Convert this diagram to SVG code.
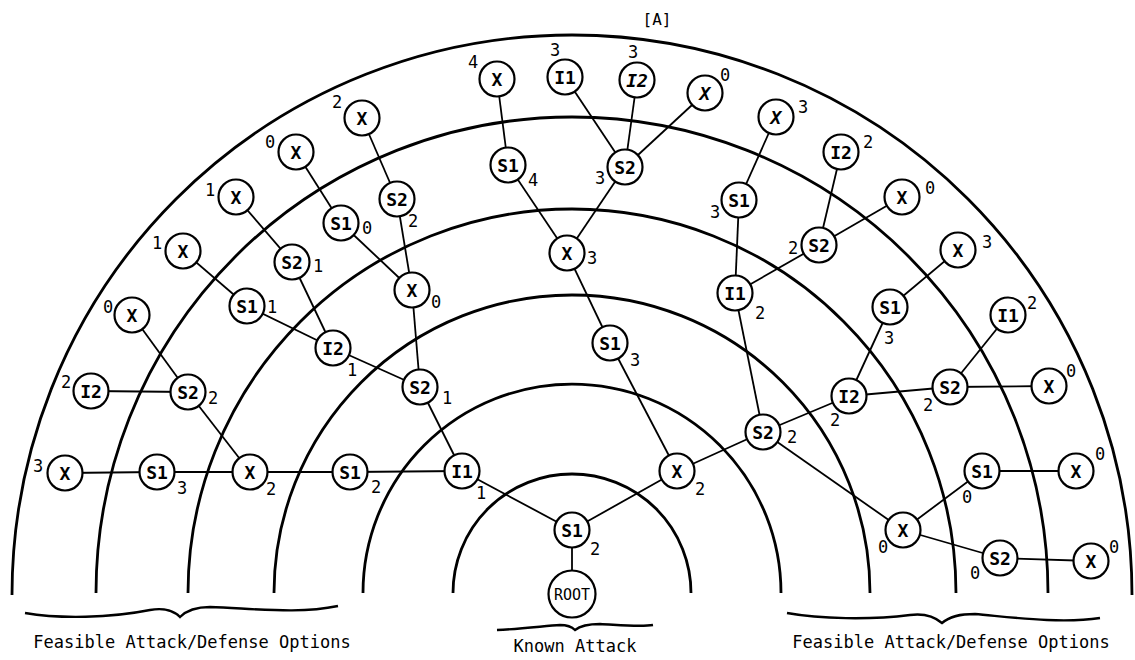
<svg xmlns="http://www.w3.org/2000/svg" width="1135" height="660" viewBox="0 0 1135 660">
<style>
.arc{fill:none;stroke:#000;stroke-width:2.8}
.br{fill:none;stroke:#000;stroke-width:2.4}
#connectors line{stroke:#000;stroke-width:1.8}
circle{fill:#fff;stroke:#000;stroke-width:2.2}
.t{font-family:"DejaVu Sans Mono","Liberation Mono",monospace;font-size:18px;font-weight:bold;text-anchor:middle;fill:#000}
.i{font-style:italic}
.w{font-family:"DejaVu Sans Mono","Liberation Mono",monospace;font-size:17px;text-anchor:middle;fill:#000}
.cap{font-family:"DejaVu Sans Mono","Liberation Mono",monospace;font-size:17px;text-anchor:middle;fill:#000}
</style>
<rect width="1135" height="660" fill="#fff"/>
<g id="arcs">
<path class="arc" d="M453,593 A119,119 0 0 1 691,593"/>
<path class="arc" d="M363,593 A209,209 0 0 1 781,593"/>
<path class="arc" d="M274,593 A298,298 0 0 1 870,593"/>
<path class="arc" d="M188,593 A384,384 0 0 1 956,593"/>
<path class="arc" d="M96,593 A476,476 0 0 1 1048,593"/>
<path class="arc" d="M12,595 A560,560 0 0 1 1132,595"/>
</g>
<g id="braces">
<path class="br" d="M25,613 C60,619 110,618 150,610 C165,607 175,612 180,617 C186,611 195,607 210,607 C260,609 300,614 338,606"/>
<path class="br" d="M497,630 C520,629 545,626 560,625 C568,625 572,627 575,630 C580,626 588,624 600,624 C620,625 640,627 653,625"/>
<path class="br" d="M787,613 C820,619 870,620 910,615 C925,613 935,617 942,623 C950,616 960,614 975,614 C1010,617 1060,624 1100,618"/>
</g>
<g id="connectors">
<line x1="572" y1="530" x2="572" y2="594"/>
<line x1="572" y1="530" x2="462" y2="471"/>
<line x1="572" y1="530" x2="677" y2="471"/>
<line x1="462" y1="471" x2="350" y2="472"/>
<line x1="462" y1="471" x2="420" y2="387"/>
<line x1="350" y1="472" x2="250" y2="472"/>
<line x1="250" y1="472" x2="157" y2="472"/>
<line x1="157" y1="472" x2="65" y2="473"/>
<line x1="250" y1="472" x2="188" y2="392"/>
<line x1="188" y1="392" x2="91" y2="391"/>
<line x1="188" y1="392" x2="132" y2="315"/>
<line x1="420" y1="387" x2="333" y2="348"/>
<line x1="420" y1="387" x2="412" y2="290"/>
<line x1="333" y1="348" x2="247" y2="306"/>
<line x1="333" y1="348" x2="292" y2="262"/>
<line x1="247" y1="306" x2="183" y2="251"/>
<line x1="292" y1="262" x2="236" y2="197"/>
<line x1="412" y1="290" x2="341" y2="223"/>
<line x1="412" y1="290" x2="397" y2="199"/>
<line x1="341" y1="223" x2="296" y2="152"/>
<line x1="397" y1="199" x2="362" y2="118"/>
<line x1="677" y1="471" x2="610" y2="343"/>
<line x1="610" y1="343" x2="567" y2="253"/>
<line x1="567" y1="253" x2="508" y2="165"/>
<line x1="567" y1="253" x2="625" y2="167"/>
<line x1="508" y1="165" x2="497" y2="79"/>
<line x1="625" y1="167" x2="565" y2="77"/>
<line x1="625" y1="167" x2="637" y2="80"/>
<line x1="625" y1="167" x2="705" y2="93"/>
<line x1="677" y1="471" x2="763" y2="432"/>
<line x1="763" y1="432" x2="735" y2="293"/>
<line x1="735" y1="293" x2="739" y2="200"/>
<line x1="739" y1="200" x2="776" y2="117"/>
<line x1="735" y1="293" x2="819" y2="245"/>
<line x1="819" y1="245" x2="841" y2="152"/>
<line x1="819" y1="245" x2="902" y2="197"/>
<line x1="763" y1="432" x2="849" y2="396"/>
<line x1="849" y1="396" x2="890" y2="307"/>
<line x1="890" y1="307" x2="958" y2="250"/>
<line x1="849" y1="396" x2="950" y2="387"/>
<line x1="950" y1="387" x2="1008" y2="315"/>
<line x1="950" y1="387" x2="1049" y2="386"/>
<line x1="763" y1="432" x2="903" y2="530"/>
<line x1="903" y1="530" x2="982" y2="471"/>
<line x1="982" y1="471" x2="1076" y2="471"/>
<line x1="903" y1="530" x2="1000" y2="558"/>
<line x1="1000" y1="558" x2="1091" y2="561"/>
</g>
<g id="n-root"><circle cx="572" cy="594" r="23.5"/><text class="t" x="572" y="600" style="font-size:15px;font-weight:normal">ROOT</text></g>
<g id="n-s1r"><circle cx="572" cy="530" r="17.5"/><text class="t" x="572" y="536.5">S1</text><text class="w" x="595" y="555">2</text></g>
<g id="n-i1"><circle cx="462" cy="471" r="17.5"/><text class="t" x="462" y="477.5">I1</text><text class="w" x="481" y="499">1</text></g>
<g id="n-xc"><circle cx="677" cy="471" r="17.5"/><text class="t" x="677" y="477.5">X</text><text class="w" x="700" y="495">2</text></g>
<g id="n-s1a"><circle cx="350" cy="472" r="17.5"/><text class="t" x="350" y="478.5">S1</text><text class="w" x="376" y="493">2</text></g>
<g id="n-xb"><circle cx="250" cy="472" r="17.5"/><text class="t" x="250" y="478.5">X</text><text class="w" x="271" y="495">2</text></g>
<g id="n-s1b"><circle cx="157" cy="472" r="17.5"/><text class="t" x="157" y="478.5">S1</text><text class="w" x="182" y="494">3</text></g>
<g id="n-xl"><circle cx="65" cy="473" r="17.5"/><text class="t" x="65" y="479.5">X</text><text class="w" x="38" y="472">3</text></g>
<g id="n-s2b"><circle cx="188" cy="392" r="17.5"/><text class="t" x="188" y="398.5">S2</text><text class="w" x="213" y="404">2</text></g>
<g id="n-i2b"><circle cx="91" cy="391" r="17.5"/><text class="t" x="91" y="397.5">I2</text><text class="w" x="66" y="388">2</text></g>
<g id="n-xd"><circle cx="132" cy="315" r="17.5"/><text class="t" x="132" y="321.5">X</text><text class="w" x="108" y="313">0</text></g>
<g id="n-s2a"><circle cx="420" cy="387" r="17.5"/><text class="t" x="420" y="393.5">S2</text><text class="w" x="447" y="404">1</text></g>
<g id="n-i2a"><circle cx="333" cy="348" r="17.5"/><text class="t" x="333" y="354.5">I2</text><text class="w" x="352" y="376">1</text></g>
<g id="n-xe"><circle cx="412" cy="290" r="17.5"/><text class="t" x="412" y="296.5">X</text><text class="w" x="436" y="308">0</text></g>
<g id="n-s1c"><circle cx="247" cy="306" r="17.5"/><text class="t" x="247" y="312.5">S1</text><text class="w" x="272" y="313">1</text></g>
<g id="n-s2c"><circle cx="292" cy="262" r="17.5"/><text class="t" x="292" y="268.5">S2</text><text class="w" x="318" y="272">1</text></g>
<g id="n-xf"><circle cx="183" cy="251" r="17.5"/><text class="t" x="183" y="257.5">X</text><text class="w" x="157" y="249">1</text></g>
<g id="n-xg"><circle cx="236" cy="197" r="17.5"/><text class="t" x="236" y="203.5">X</text><text class="w" x="210" y="196">1</text></g>
<g id="n-s1d"><circle cx="341" cy="223" r="17.5"/><text class="t" x="341" y="229.5">S1</text><text class="w" x="367" y="234">0</text></g>
<g id="n-s2d"><circle cx="397" cy="199" r="17.5"/><text class="t" x="397" y="205.5">S2</text><text class="w" x="413" y="227">2</text></g>
<g id="n-xh"><circle cx="296" cy="152" r="17.5"/><text class="t" x="296" y="158.5">X</text><text class="w" x="270" y="148">0</text></g>
<g id="n-xi"><circle cx="362" cy="118" r="17.5"/><text class="t" x="362" y="124.5">X</text><text class="w" x="337" y="108">2</text></g>
<g id="n-s1e"><circle cx="610" cy="343" r="17.5"/><text class="t" x="610" y="349.5">S1</text><text class="w" x="635" y="366">3</text></g>
<g id="n-xj"><circle cx="567" cy="253" r="17.5"/><text class="t" x="567" y="259.5">X</text><text class="w" x="592" y="264">3</text></g>
<g id="n-s1f"><circle cx="508" cy="165" r="17.5"/><text class="t" x="508" y="171.5">S1</text><text class="w" x="533" y="186">4</text></g>
<g id="n-s2f"><circle cx="625" cy="167" r="17.5"/><text class="t" x="625" y="173.5">S2</text><text class="w" x="600" y="184">3</text></g>
<g id="n-xk"><circle cx="497" cy="79" r="17.5"/><text class="t" x="497" y="85.5">X</text><text class="w" x="473" y="68">4</text></g>
<g id="n-i1t"><circle cx="565" cy="77" r="17.5"/><text class="t" x="565" y="83.5">I1</text><text class="w" x="555" y="56">3</text></g>
<g id="n-i2t"><circle cx="637" cy="80" r="17.5"/><text class="t i" x="637" y="86.5">I2</text><text class="w" x="633" y="58">3</text></g>
<g id="n-xm"><circle cx="705" cy="93" r="17.5"/><text class="t i" x="705" y="99.5">X</text><text class="w" x="725" y="81">0</text></g>
<g id="n-s2g"><circle cx="763" cy="432" r="17.5"/><text class="t" x="763" y="438.5">S2</text><text class="w" x="792" y="443">2</text></g>
<g id="n-i1g"><circle cx="735" cy="293" r="17.5"/><text class="t" x="735" y="299.5">I1</text><text class="w" x="760" y="319">2</text></g>
<g id="n-s1g"><circle cx="739" cy="200" r="17.5"/><text class="t" x="739" y="206.5">S1</text><text class="w" x="715" y="218">3</text></g>
<g id="n-xn"><circle cx="776" cy="117" r="17.5"/><text class="t i" x="776" y="123.5">X</text><text class="w" x="803" y="113">3</text></g>
<g id="n-s2h"><circle cx="819" cy="245" r="17.5"/><text class="t" x="819" y="251.5">S2</text><text class="w" x="793" y="254">2</text></g>
<g id="n-i2h"><circle cx="841" cy="152" r="17.5"/><text class="t" x="841" y="158.5">I2</text><text class="w" x="868" y="148">2</text></g>
<g id="n-xo"><circle cx="902" cy="197" r="17.5"/><text class="t" x="902" y="203.5">X</text><text class="w" x="930" y="194">0</text></g>
<g id="n-i2i"><circle cx="849" cy="396" r="17.5"/><text class="t" x="849" y="402.5">I2</text><text class="w" x="835" y="426">2</text></g>
<g id="n-s1i"><circle cx="890" cy="307" r="17.5"/><text class="t" x="890" y="313.5">S1</text><text class="w" x="889" y="344">3</text></g>
<g id="n-xp"><circle cx="958" cy="250" r="17.5"/><text class="t" x="958" y="256.5">X</text><text class="w" x="987" y="248">3</text></g>
<g id="n-s2i"><circle cx="950" cy="387" r="17.5"/><text class="t" x="950" y="393.5">S2</text><text class="w" x="928" y="411">2</text></g>
<g id="n-i1i"><circle cx="1008" cy="315" r="17.5"/><text class="t" x="1008" y="321.5">I1</text><text class="w" x="1032" y="309">2</text></g>
<g id="n-xq"><circle cx="1049" cy="386" r="17.5"/><text class="t" x="1049" y="392.5">X</text><text class="w" x="1071" y="377">0</text></g>
<g id="n-xr"><circle cx="903" cy="530" r="17.5"/><text class="t" x="903" y="536.5">X</text><text class="w" x="883" y="553">0</text></g>
<g id="n-s1r2"><circle cx="982" cy="471" r="17.5"/><text class="t" x="982" y="477.5">S1</text><text class="w" x="967" y="503">0</text></g>
<g id="n-xs"><circle cx="1076" cy="471" r="17.5"/><text class="t" x="1076" y="477.5">X</text><text class="w" x="1100" y="460">0</text></g>
<g id="n-s2r"><circle cx="1000" cy="558" r="17.5"/><text class="t" x="1000" y="564.5">S2</text><text class="w" x="975" y="579">0</text></g>
<g id="n-xt"><circle cx="1091" cy="561" r="17.5"/><text class="t" x="1091" y="567.5">X</text><text class="w" x="1114" y="553">0</text></g>
<g id="captions">
<text class="cap" x="657" y="25" style="font-size:16px">[A]</text>
<text class="cap" x="192" y="648">Feasible Attack/Defense Options</text>
<text class="cap" x="575" y="652">Known Attack</text>
<text class="cap" x="951" y="648">Feasible Attack/Defense Options</text>
</g>
</svg>
